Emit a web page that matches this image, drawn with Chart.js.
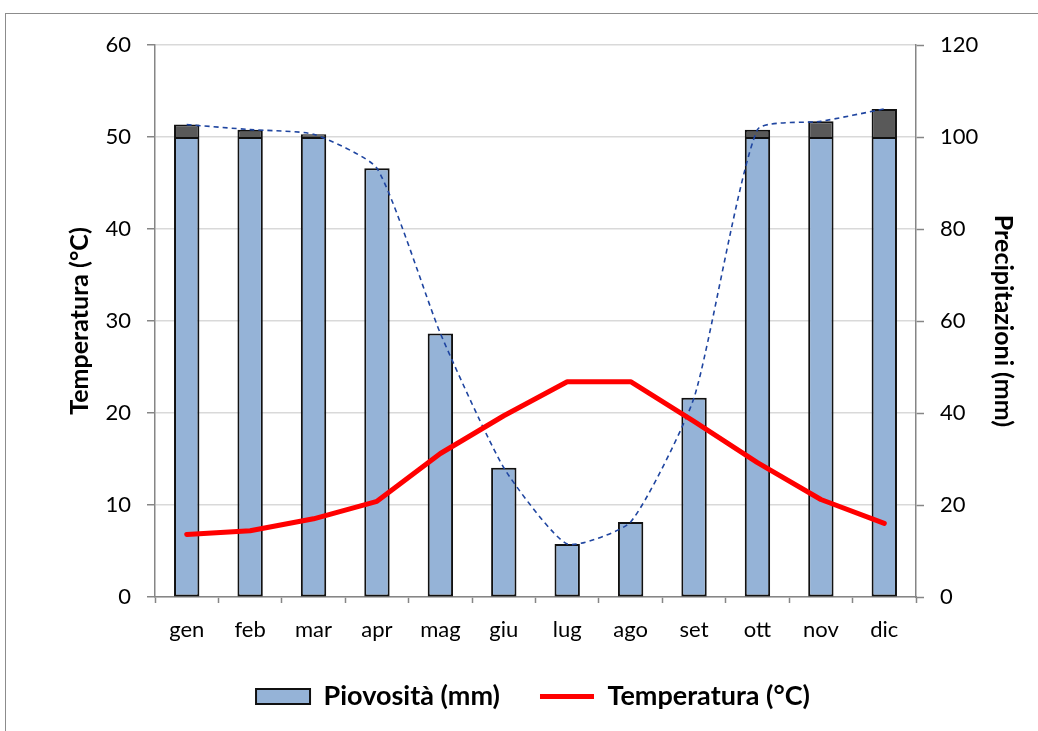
<!DOCTYPE html>
<html lang="it">
<head>
<meta charset="utf-8">
<title>Climogramma</title>
<script src="https://cdn.jsdelivr.net/npm/chart.js@4/dist/chart.umd.min.js"></script>
<style>
  html, body { margin: 0; padding: 0; background: #ffffff; overflow: hidden; }
  #wrap { position: relative; width: 1038px; height: 731px; }
  #frame {
    position: absolute; left: 5px; top: 13px; width: 1100px; height: 800px;
    border: 1px solid #8c8c8c; box-sizing: border-box; pointer-events: none;
  }
  canvas { position: absolute; left: 0; top: 0; }
</style>
</head>
<body>
<div id="wrap">
  <div id="frame"></div>
  <canvas id="chart" width="1038" height="731"></canvas>
</div>
<script>
// Monthly climate data
const months = ['gen', 'feb', 'mar', 'apr', 'mag', 'giu', 'lug', 'ago', 'set', 'ott', 'nov', 'dic'];
const precipitation = [102.7, 101.6, 100.6, 93.2, 57.3, 28.1, 11.5, 16.3, 43.3, 101.6, 103.4, 106.1]; // mm
const temperature = [6.8, 7.2, 8.5, 10.4, 15.6, 19.7, 23.4, 23.4, 19.1, 14.6, 10.6, 8.0];            // °C
const tempTicks = [0, 10, 20, 30, 40, 50, 60];
const precipTicks = [0, 20, 40, 60, 80, 100, 120];

// Rain above 100 mm is drawn in a darker block on top of the blue bar
const RAIN_CAP = 100;
const rainBase = precipitation.map(v => Math.min(v, RAIN_CAP));
const rainExcess = precipitation.map(v => (v > RAIN_CAP ? [RAIN_CAP, v] : null));

const FONT = 'Lato, "Open Sans", "DejaVu Sans", sans-serif';
const AXIS_GREY = '#868686';

Chart.defaults.font.family = FONT;
Chart.defaults.color = '#000000';

new Chart(document.getElementById('chart'), {
  data: {
    labels: months,
    datasets: [
      {
        type: 'line',
        label: 'Temperatura (°C)',
        data: temperature,
        yAxisID: 'y',
        borderColor: '#ff0000',
        backgroundColor: '#ff0000',
        borderWidth: 5,
        borderCapStyle: 'round',
        borderJoinStyle: 'round',
        pointRadius: 0,
        tension: 0,
        order: 0
      },
      {
        type: 'line',
        label: 'Andamento piovosità',
        data: precipitation,
        yAxisID: 'y1',
        borderColor: '#1f45a0',
        borderWidth: 1.6,
        borderDash: [5, 4],
        pointRadius: 0,
        tension: 0.18,
        fill: false,
        order: 1
      },
      {
        type: 'bar',
        label: 'Piovosità (mm)',
        data: rainBase,
        yAxisID: 'y1',
        backgroundColor: '#95b3d7',
        borderColor: '#111111',
        borderWidth: 2,
        borderSkipped: false,
        barPercentage: 0.4,
        categoryPercentage: 1,
        order: 2
      },
      {
        type: 'bar',
        label: 'Piovosità oltre 100 mm',
        data: rainExcess,
        yAxisID: 'y1',
        backgroundColor: '#595959',
        borderColor: '#111111',
        borderWidth: { top: 2, left: 2, right: 2, bottom: 0 },
        borderSkipped: false,
        barPercentage: 0.4,
        categoryPercentage: 1,
        order: 2
      }
    ]
  },
  options: {
    responsive: false,
    animation: false,
    events: [],
    layout: { padding: { left: 65, right: 37, top: 45, bottom: 11 } },
    plugins: {
      tooltip: { enabled: false },
      legend: {
        position: 'bottom',
        labels: {
          usePointStyle: true,
          pointStyleWidth: 54,
          boxHeight: 15,
          padding: 40,
          color: '#000000',
          font: { size: 27, weight: 'bold', family: FONT },
          generateLabels: () => [
            {
              text: 'Piovosità (mm)',
              pointStyle: 'rect',
              fillStyle: '#95b3d7',
              strokeStyle: '#111111',
              lineWidth: 2,
              fontColor: '#000000',
              datasetIndex: 2
            },
            {
              text: 'Temperatura (°C)',
              pointStyle: 'line',
              fillStyle: '#ff0000',
              strokeStyle: '#ff0000',
              lineWidth: 5,
              fontColor: '#000000',
              datasetIndex: 0
            }
          ]
        }
      }
    },
    scales: {
      x: {
        stacked: true,
        offset: true,
        afterFit: s => { s.height = 46; },
        border: { display: true, color: AXIS_GREY, width: 1.5 },
        grid: {
          offset: true,
          drawOnChartArea: false,
          drawTicks: true,
          tickLength: 6,
          tickColor: AXIS_GREY,
          tickWidth: 1.5
        },
        ticks: { padding: 14, color: '#000000', font: { size: 22, family: FONT } }
      },
      y: {
        position: 'left',
        min: 0,
        max: 60,
        afterBuildTicks: s => { s.ticks = tempTicks.map(v => ({ value: v })); },
        afterFit: s => { s.width = 90; },
        border: { display: true, color: AXIS_GREY, width: 1.5 },
        grid: {
          color: '#d9d9d9',
          lineWidth: 1.5,
          drawTicks: true,
          tickLength: 8,
          tickColor: AXIS_GREY,
          tickWidth: 1.5
        },
        ticks: { padding: 16, color: '#000000', font: { size: 22, family: FONT } },
        title: {
          display: true,
          text: 'Temperatura (°C)',
          color: '#000000',
          padding: 0,
          font: { size: 25, weight: 'bold', family: FONT }
        }
      },
      y1: {
        position: 'right',
        min: 0,
        max: 120,
        stacked: false,
        afterBuildTicks: s => { s.ticks = precipTicks.map(v => ({ value: v })); },
        afterFit: s => { s.width = 85; },
        border: { display: true, color: AXIS_GREY, width: 1.5 },
        grid: {
          drawOnChartArea: false,
          drawTicks: true,
          tickLength: 8,
          tickColor: AXIS_GREY,
          tickWidth: 1.5
        },
        ticks: { padding: 16, color: '#000000', font: { size: 22, family: FONT } },
        title: {
          display: true,
          text: 'Precipitazioni (mm)',
          color: '#000000',
          padding: { top: -17, bottom: 0 },
          font: { size: 25, weight: 'bold', family: FONT }
        }
      }
    }
  }
});
</script>
</body>
</html>
